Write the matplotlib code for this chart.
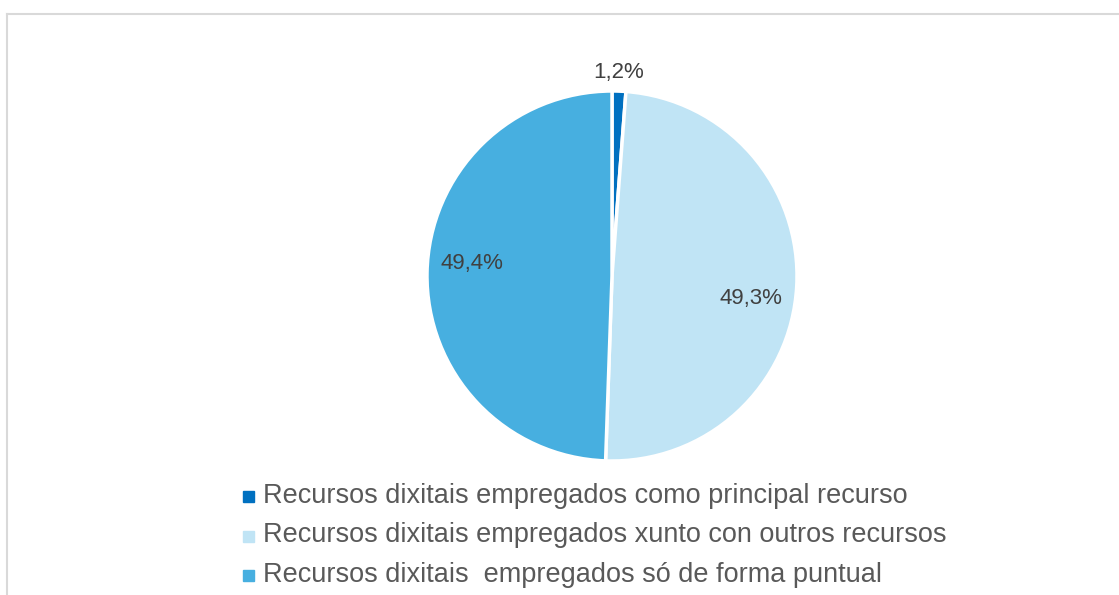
import matplotlib
matplotlib.use("Agg")
import matplotlib.pyplot as plt
import numpy as np
from matplotlib.patches import Rectangle
from matplotlib.lines import Line2D
from matplotlib import font_manager as fm

categories = [
    "Recursos dixitais empregados como principal recurso",
    "Recursos dixitais empregados xunto con outros recursos",
    "Recursos dixitais  empregados só de forma puntual",
]
values = [1.2, 49.3, 49.4]
value_labels = ["1,2%", "49,3%", "49,4%"]
colors = ["#0070C0", "#C0E4F5", "#47AFE0"]


def regular_font(name, size):
    for f in fm.fontManager.ttflist:
        if (f.name == name and f.style == "normal" and f.weight in (400, "normal")
                and f.stretch in ("normal", 500) and "Narrow" not in f.fname):
            return fm.FontProperties(fname=f.fname, size=size)
    return fm.FontProperties(family=["Liberation Sans", "DejaVu Sans"], size=size)


W, H = 1119, 595
fig = plt.figure(figsize=(W / 100, H / 100), dpi=100)
fig.patch.set_facecolor("white")

# chart frame (partly cropped in the reference)
fig.add_artist(Line2D([6.5 / W, 1.0], [1 - 13.5 / H, 1 - 13.5 / H], color="#D9D9D9", lw=1.5))
fig.add_artist(Line2D([6.5 / W, 6.5 / W], [0, 1 - 13.5 / H], color="#D9D9D9", lw=1.5))

cx, cy, r = 612, 276, 185
ax = fig.add_axes([(cx - r) / W, 1 - (cy + r) / H, 2 * r / W, 2 * r / H])
wedges, _ = ax.pie(values, colors=colors, startangle=90, counterclock=False,
                   wedgeprops=dict(edgecolor="white", linewidth=2.5))
ax.set_xlim(-1, 1)
ax.set_ylim(-1, 1)
ax.set_aspect("equal")

lab_fp = regular_font("Liberation Sans", 16)
label_dist = [1.10, 0.76, 0.76]
label_shift = [0.2, -6.0, -4.3]  # degrees, Excel best-fit nudge
for w, t, d, s in zip(wedges, value_labels, label_dist, label_shift):
    ang = np.deg2rad((w.theta1 + w.theta2) / 2 + s)
    ax.text(d * np.cos(ang), d * np.sin(ang), t, ha="center", va="center",
            color="#404040", fontproperties=lab_fp)

leg_fp = regular_font("Liberation Sans", 19.5)
rows_y = [496, 535.5, 575]
for cat, col, y in zip(categories, colors, rows_y):
    fig.add_artist(Rectangle((243 / W, 1 - (y + 6) / H), 11 / W, 11 / H, color=col,
                             transform=fig.transFigure))
    fig.text(263 / W, 1 - y / H, cat, ha="left", va="center",
             color="#595959", fontproperties=leg_fp)

fig.savefig("out.png", dpi=100, facecolor="white")
